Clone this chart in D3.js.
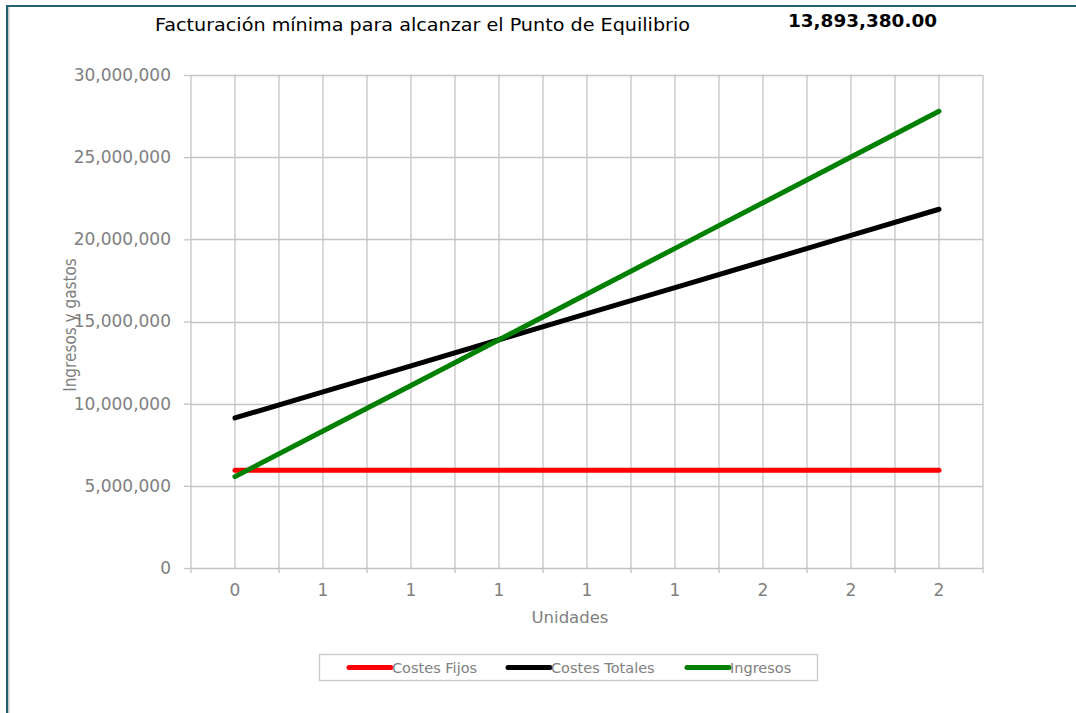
<!DOCTYPE html>
<html>
<head>
<meta charset="utf-8">
<script src="https://cdn.jsdelivr.net/npm/d3@7/dist/d3.min.js"></script>
<style>
  html, body { margin: 0; padding: 0; background: #fff; }
  svg { display: block; }
</style>
</head>
<body>
<svg id="chart" width="1076" height="713"></svg>
<script>
// ---- Data ----
const categories = ["0", "1", "1", "1", "1", "1", "2", "2", "2"];
const costesFijos = [5950000, 5950000, 5950000, 5950000, 5950000, 5950000, 5950000, 5950000, 5950000];
const costesTotales = [9130000, 10720000, 12300000, 13890000, 15480000, 17060000, 18650000, 20240000, 21830000];
const ingresos = [5560000, 8340000, 11110000, 13890000, 16670000, 19450000, 22230000, 25010000, 27790000];
const yTicks = [0, 5000000, 10000000, 15000000, 20000000, 25000000, 30000000];
const titleText = "Facturación mínima para alcanzar el Punto de Equilibrio";
const titleValue = "13,893,380.00";
const seriesNames = ["Costes Fijos", "Costes Totales", "Ingresos"];
const seriesColors = ["#ff0000", "#000000", "#008000"];

const series = [costesFijos, costesTotales, ingresos].map((v, i) => ({
  name: seriesNames[i], color: seriesColors[i], values: v
}));

const svg = d3.select("#chart");
const W = 1076, H = 713;
const plot = { left: 191, right: 983, top: 75, bottom: 568 };
const gridColor = "#c4c4c4";
const textColor = "#808080";

// Frame
svg.append("rect").attr("x", 6).attr("y", 5).attr("width", W - 6).attr("height", 2).attr("fill", "#25606e");
svg.append("rect").attr("x", 6).attr("y", 5).attr("width", 2).attr("height", H - 5).attr("fill", "#25606e");
svg.append("rect").attr("x", 8).attr("y", 7).attr("width", 1.5).attr("height", H - 7).attr("fill", "#c8c8c8");

// Scales
const idx = categories.map((d, i) => i);
const x = d3.scaleBand().domain(idx).range([plot.left, plot.right]).paddingInner(0).paddingOuter(0);
const y = d3.scaleLinear().domain([0, 30000000]).range([plot.bottom, plot.top]);
const cx = i => x(i) + x.bandwidth() / 2;

// Horizontal gridlines + y axis
const yAxis = d3.axisLeft(y).tickValues(yTicks).tickFormat(d3.format(",")).tickSize(7).tickPadding(13);
const gy = svg.append("g").attr("transform", `translate(${plot.left},0)`).call(yAxis);
gy.select(".domain").remove();
gy.selectAll(".tick line").attr("stroke", gridColor).attr("stroke-width", 1.3);
gy.selectAll(".tick text").attr("fill", textColor).style("font-family", "DejaVu Sans, Verdana, sans-serif").style("font-size", "17px");

svg.append("g").selectAll("line").data(yTicks).join("line")
  .attr("x1", plot.left).attr("x2", plot.right)
  .attr("y1", d => Math.round(y(d)) + 0.5).attr("y2", d => Math.round(y(d)) + 0.5)
  .attr("stroke", gridColor).attr("stroke-width", 1.3);

// Vertical gridlines: band edges (major) and centers (minor)
const edges = idx.map(i => x(i)).concat([plot.right]);
svg.append("g").selectAll("line").data(edges).join("line")
  .attr("x1", d => d).attr("x2", d => d)
  .attr("y1", plot.top).attr("y2", plot.bottom + 5)
  .attr("stroke", gridColor).attr("stroke-width", 1.3);
svg.append("g").selectAll("line").data(idx).join("line")
  .attr("x1", d => cx(d)).attr("x2", d => cx(d))
  .attr("y1", plot.top).attr("y2", plot.bottom)
  .attr("stroke", gridColor).attr("stroke-width", 1.3);

// X axis labels
const xAxis = d3.axisBottom(x).tickFormat(i => categories[i]).tickSize(0).tickPadding(16);
const gx = svg.append("g").attr("transform", `translate(0,${plot.bottom})`).call(xAxis);
gx.select(".domain").remove();
gx.selectAll(".tick text").attr("fill", textColor).style("font-family", "DejaVu Sans, Verdana, sans-serif").style("font-size", "17px");

// Axis titles
svg.append("text").attr("x", 570).attr("y", 623).attr("text-anchor", "middle")
  .attr("fill", textColor).style("font-family", "DejaVu Sans, Verdana, sans-serif").style("font-size", "16.5px")
  .text("Unidades");
svg.append("text").attr("transform", "translate(76,325) rotate(-90)").attr("text-anchor", "middle")
  .attr("fill", textColor).style("font-family", "DejaVu Sans Condensed, DejaVu Sans, sans-serif").style("font-size", "17px")
  .text("Ingresos y gastos");

// Lines
const line = d3.line().x((d, i) => cx(i)).y(d => y(d));
svg.append("g").selectAll("path").data(series).join("path")
  .attr("d", d => line(d.values))
  .attr("fill", "none").attr("stroke", d => d.color)
  .attr("stroke-width", 5).attr("stroke-linecap", "round").attr("stroke-linejoin", "round");

// Title
svg.append("text").attr("x", 155).attr("y", 31)
  .attr("fill", "#000").style("font-family", "DejaVu Sans, Verdana, sans-serif").style("font-size", "18.5px")
  .attr("textLength", 535).attr("lengthAdjust", "spacingAndGlyphs")
  .text(titleText);
svg.append("text").attr("x", 788).attr("y", 27)
  .attr("fill", "#000").style("font-family", "DejaVu Sans, Verdana, sans-serif").style("font-weight", "bold").style("font-size", "17.5px")
  .attr("textLength", 149).attr("lengthAdjust", "spacingAndGlyphs")
  .text(titleValue);

// Legend
const leg = svg.append("g");
leg.append("rect").attr("x", 319.5).attr("y", 654.5).attr("width", 498).attr("height", 26)
  .attr("fill", "#fff").attr("stroke", "#c8c8c8").attr("stroke-width", 1.3);
const legX = [349, 508, 687];
series.forEach((s, i) => {
  leg.append("line").attr("x1", legX[i]).attr("x2", legX[i] + 42).attr("y1", 667.5).attr("y2", 667.5)
    .attr("stroke", s.color).attr("stroke-width", 5).attr("stroke-linecap", "round");
  leg.append("text").attr("x", legX[i] + 43).attr("y", 673)
    .attr("fill", textColor).style("font-family", "DejaVu Sans, Verdana, sans-serif").style("font-size", "14.5px")
    .text(s.name);
});
</script>
</body>
</html>
